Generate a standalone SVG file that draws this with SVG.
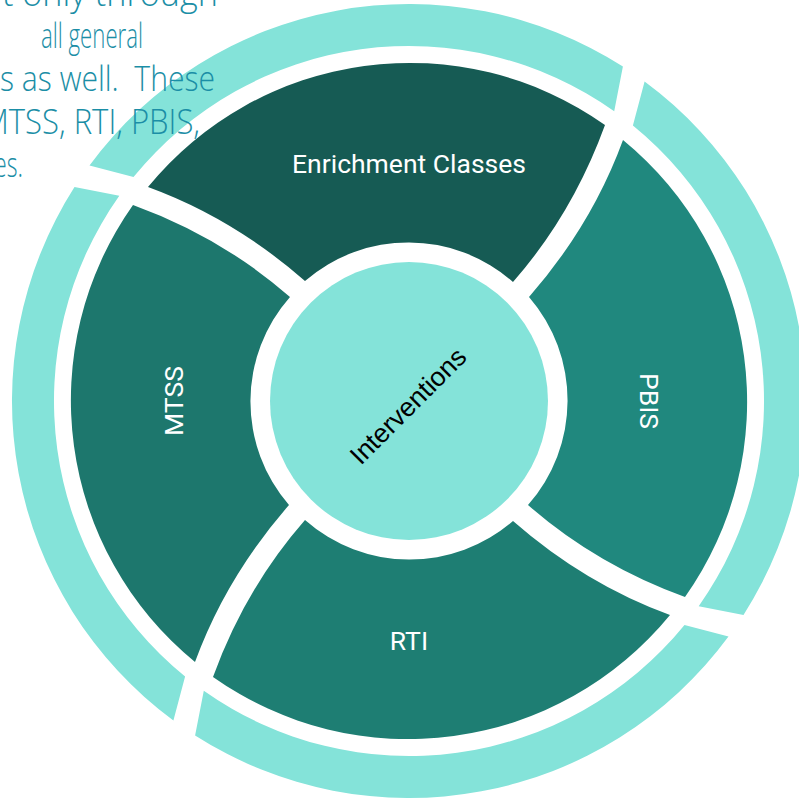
<svg xmlns="http://www.w3.org/2000/svg" width="799" height="802" viewBox="0 0 799 802">
<style>
.ring{fill:#84E3D9}
.lbl{font-family:Roboto,"Liberation Sans",sans-serif;font-size:26.5px;fill:#FFFFFF;text-anchor:middle;dominant-baseline:central}
.bg{font-family:"Open Sans","Liberation Sans",sans-serif;font-weight:300;font-size:34px;fill:#1B8EA6}
</style>
<defs>
<path id="seg" d="M -104 -120 Q -176 -183 -261 -214 A 338 338 0 0 1 196 -276 Q 163.7 -187.1 104 -119 A 158 158 0 0 0 -104 -120 Z"/>
<path id="arc" d="M -275.5 -223.9 L -319.5 -235.6 A 397 397 0 0 1 213.9 -334.5 L 205.2 -289.7 A 355 355 0 0 0 -275.5 -223.9 Z"/>
</defs>
<rect width="799" height="802" fill="#FFFFFF"/>
<g id="outer-ring" class="ring">
<use href="#arc" transform="translate(409 401)"/>
<use href="#arc" transform="translate(409 401) rotate(90)"/>
<use href="#arc" transform="translate(409 401) rotate(180)"/>
<use href="#arc" transform="translate(409 401) rotate(270)"/>
</g>
<g id="connectors"></g>
<g id="node-enrichment">
<use href="#seg" transform="translate(409 401)" fill="#165B54"/>
<text class="lbl" x="409" y="163">Enrichment Classes</text>
</g>
<g id="node-pbis">
<use href="#seg" transform="translate(409 401) rotate(90)" fill="#20887E"/>
<text class="lbl" transform="translate(649 401) rotate(90)">PBIS</text>
</g>
<g id="node-rti">
<use href="#seg" transform="translate(409 401) rotate(180)" fill="#1E7E73"/>
<text class="lbl" x="409" y="640">RTI</text>
</g>
<g id="node-mtss">
<use href="#seg" transform="translate(409 401) rotate(270)" fill="#1D776D"/>
<text class="lbl" transform="translate(173 401) rotate(-90)">MTSS</text>
</g>
<g id="node-interventions">
<circle cx="409" cy="401" r="139" fill="#84E3D9"/>
<text transform="translate(408 406) rotate(-45)" font-family="'Liberation Sans',Arial,sans-serif" font-size="26.5" fill="#000000" text-anchor="middle" dominant-baseline="central">Interventions</text>
</g>
<g id="background-text" class="bg">
<text x="2" y="6" textLength="216" lengthAdjust="spacingAndGlyphs">t only through</text>
<text x="41" y="48" textLength="102" lengthAdjust="spacingAndGlyphs">all general</text>
<text x="0" y="91" textLength="215" lengthAdjust="spacingAndGlyphs" xml:space="preserve">s as well.  These</text>
<text x="-18" y="134" textLength="218" lengthAdjust="spacingAndGlyphs">MTSS, RTI, PBIS,</text>
<text x="-6" y="177" textLength="29" lengthAdjust="spacingAndGlyphs">es.</text>
</g>
</svg>
